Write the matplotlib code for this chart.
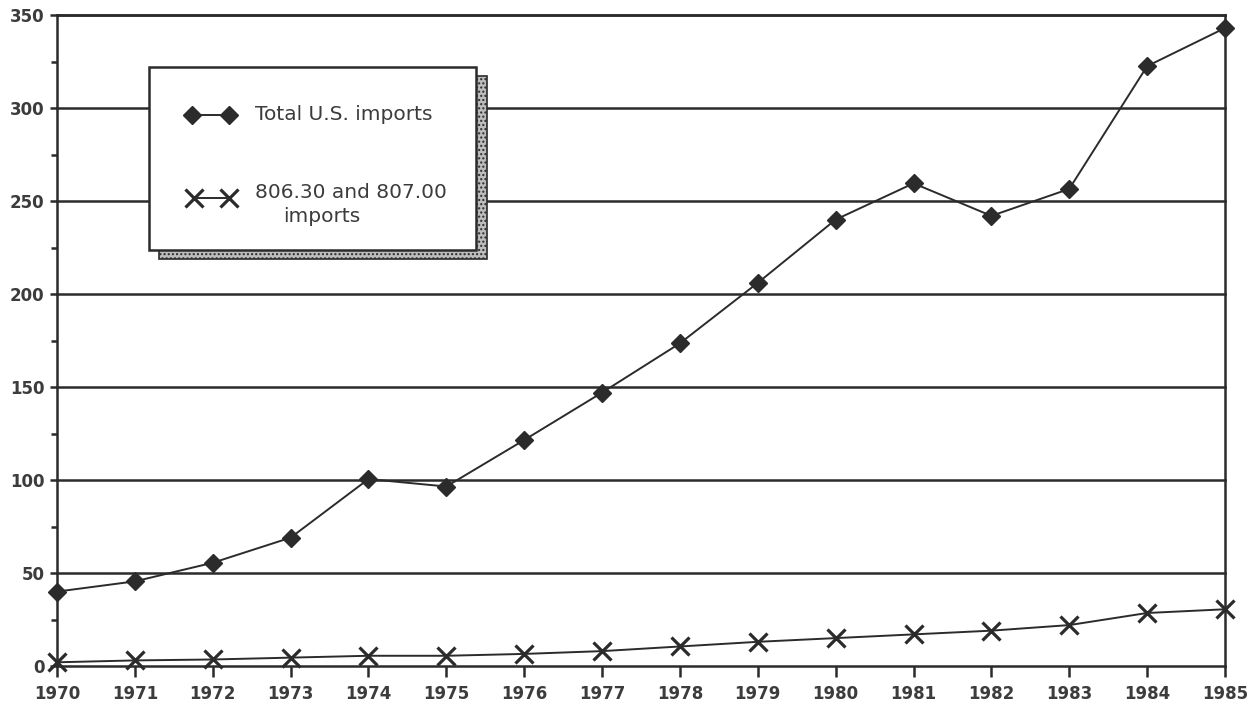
import matplotlib
matplotlib.use("Agg")
import matplotlib.pyplot as plt
from matplotlib.patches import Rectangle
from matplotlib.lines import Line2D

years = list(range(1970, 1986))
total_imports = [40, 45.5, 55.5, 69, 100.5, 96.5, 121.5, 147, 173.5, 206, 240, 259.5, 242, 256.5, 322.5, 343]
imports_806_807 = [2, 3, 3.5, 4.5, 5.5, 5.5, 6.5, 8, 10.5, 13, 15, 17, 19, 22, 28.5, 30.5]
y_ticks = [0, 50, 100, 150, 200, 250, 300, 350]

ink = "#2b2b2b"
label_ink = "#3c3c3c"
plt.rcParams["font.family"] = ["DejaVu Sans"]

fig = plt.figure(figsize=(12.57, 7.06), dpi=100)
ax = fig.add_axes([57 / 1257, 40 / 706, 1168 / 1257, 651 / 706])

for v in y_ticks:
    ax.axhline(v, color=ink, lw=1.8, zorder=1, clip_on=False)

ax.plot(years, total_imports, color=ink, lw=1.4, marker="D", ms=9.5,
        mfc=ink, mec=ink, zorder=4, clip_on=False)
ax.plot(years, imports_806_807, color=ink, lw=1.4, marker="x", ms=13,
        mew=2.3, mec=ink, zorder=4, clip_on=False)

ax.set_xlim(1970, 1985)
ax.set_ylim(0, 350)
ax.set_xticks(years)
ax.set_yticks(y_ticks)
ax.set_yticks(range(25, 350, 50), minor=True)
ax.tick_params(axis="both", which="both", direction="out", color=ink,
               width=1.8, labelsize=12, labelcolor=label_ink)
ax.tick_params(axis="x", length=8, pad=6)
ax.tick_params(axis="y", which="major", length=5, pad=4)
ax.tick_params(axis="y", which="minor", length=4)
for lbl in ax.get_xticklabels() + ax.get_yticklabels():
    lbl.set_fontweight("bold")
for side in ["top", "left", "right"]:
    ax.spines[side].set_color(ink)
    ax.spines[side].set_linewidth(1.8)
ax.spines["bottom"].set_visible(False)


# legend box with a hatched drop shadow, placed in figure pixels
W, H = 1257, 706


def px(x, y):
    return x / W, 1 - y / H


shadow = Rectangle(px(159, 259), 328 / W, 183 / H, transform=fig.transFigure,
                   facecolor="#bdbdbd", edgecolor=ink, lw=1.2, hatch="....", zorder=5)
box = Rectangle(px(149, 250), 327 / W, 183 / H, transform=fig.transFigure,
                facecolor="white", edgecolor=ink, lw=1.8, zorder=6)
fig.patches.extend([shadow, box])

xa, ya = px(192, 115)
xb, _ = px(229, 115)
fig.lines.append(Line2D([xa, xb], [ya, ya], transform=fig.transFigure, color=ink,
                        lw=1.4, marker="D", ms=9.5, mfc=ink, mec=ink, zorder=7))
xa, yb = px(194, 198)
xb, _ = px(229, 198)
fig.lines.append(Line2D([xa, xb], [yb, yb], transform=fig.transFigure, color=ink,
                        lw=1.4, marker="x", ms=13, mew=2.3, mec=ink, zorder=7))

legend_font = dict(fontsize=14.5, color=label_ink, va="center", ha="left",
                   fontweight="medium", zorder=8)
fig.text(*px(255, 115), "Total U.S. imports", **legend_font)
fig.text(*px(255, 193), "806.30 and 807.00", **legend_font)
fig.text(*px(283, 216), "imports", **legend_font)

fig.savefig("out.png", dpi=100)
